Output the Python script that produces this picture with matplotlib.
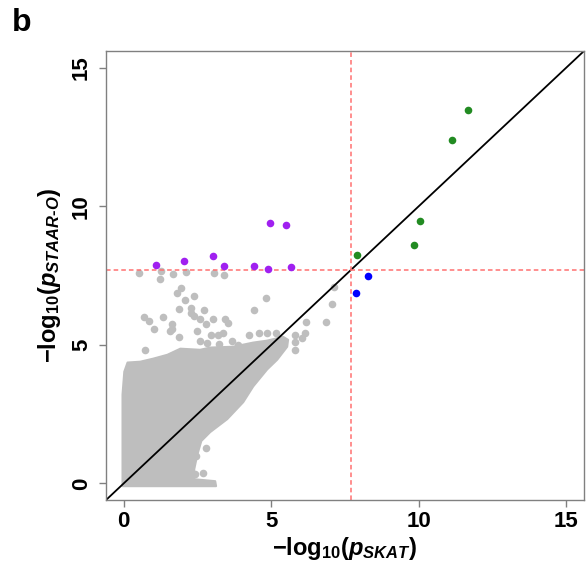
import matplotlib
matplotlib.use('Agg')
import matplotlib.pyplot as plt
import numpy as np

plt.rcParams['font.family'] = ['Liberation Sans', 'DejaVu Sans']
plt.rcParams['font.weight'] = 'bold'
plt.rcParams['mathtext.fontset'] = 'custom'
plt.rcParams['mathtext.rm'] = 'Liberation Sans:bold'
plt.rcParams['mathtext.it'] = 'Liberation Sans:bold:italic'
plt.rcParams['mathtext.bf'] = 'Liberation Sans:bold'
plt.rcParams['mathtext.sf'] = 'Liberation Sans:bold'

# outline of the dense grey cloud (-log10 p SKAT, -log10 p STAAR-O)
cloud_x = [-0.04, -0.04, 0.02, 0.13, 0.56, 1.00, 1.48, 1.92, 2.59, 2.93, 3.71, 4.39,
           4.86, 5.40, 5.57, 5.54, 5.20, 4.86, 4.39, 4.05, 3.51, 2.93, 2.63, 2.49,
           2.39, 2.39, 3.10, 3.13]
cloud_y = [-0.10, 3.21, 4.03, 4.36, 4.39, 4.50, 4.64, 4.86, 4.82, 4.90, 4.93, 5.08,
           5.15, 5.29, 5.18, 4.93, 4.46, 4.11, 3.50, 2.93, 2.32, 1.85, 1.53, 1.02,
           0.51, 0.15, 0.08, -0.10]

# scattered grey points outside the cloud
grey_x = [0.53, 1.25, 1.24, 1.67, 2.10, 3.06, 3.41, 1.95, 1.79, 2.39, 2.09, 4.82,
          7.14, 7.06, 1.88, 2.27, 2.71, 4.43, 6.85, 6.18, 0.68, 0.85, 1.33, 1.04,
          1.64, 1.64, 1.56, 1.88, 2.28, 2.39, 2.59, 2.80, 3.04, 3.44, 3.52, 2.50,
          2.97, 3.18, 3.36, 2.57, 2.82, 3.24, 3.67, 4.26, 4.59, 4.87, 5.15, 0.73,
          5.81, 6.03, 5.81, 6.14, 5.81, 3.89, 4.00, 3.50, 3.10, 2.80, 2.69, 2.42,
          2.46]
grey_y = [7.60, 7.65, 7.39, 7.56, 7.64, 7.60, 7.53, 7.04, 6.88, 6.77, 6.61, 6.70,
          7.09, 6.47, 6.29, 6.31, 6.24, 6.24, 5.84, 5.82, 6.00, 5.87, 6.00, 5.57,
          5.76, 5.57, 5.51, 5.27, 6.14, 6.05, 5.93, 5.76, 5.94, 5.93, 5.78, 5.51,
          5.36, 5.36, 5.42, 5.12, 5.06, 5.04, 5.15, 5.36, 5.42, 5.42, 5.42, 4.80,
          5.36, 5.24, 4.82, 5.42, 5.09, 4.98, 4.88, 4.82, 4.73, 1.27, 0.36, 0.33,
          0.99]

purple_x = [1.11, 2.05, 3.02, 3.39, 4.42, 4.89, 4.95, 5.50, 5.68]
purple_y = [7.88, 8.02, 8.20, 7.83, 7.83, 7.72, 9.41, 9.31, 7.79]

green_x = [7.89, 9.85, 10.04, 11.12, 11.68]
green_y = [8.24, 8.60, 9.46, 12.40, 13.48]

blue_x = [8.28, 7.88]
blue_y = [7.47, 6.88]

threshold = 7.7
ticks = [0, 5, 10, 15]

fig = plt.figure(figsize=(5.87, 5.71), dpi=100)
ax = fig.add_axes([0.1806, 0.1243, 0.8143, 0.7864])

grey = '#BEBEBE'
ax.fill(cloud_x, cloud_y, facecolor=grey, edgecolor=grey, lw=1.5,
        joinstyle='round', zorder=1)
ax.scatter(grey_x, grey_y, s=30, color=grey, lw=0, zorder=1)

ax.axline((0, 0), slope=1, color='black', lw=1.3, zorder=2)
ax.axhline(threshold, color='#FF7070', lw=1.1, ls=(0, (3, 2)), zorder=2)
ax.axvline(threshold, color='#FF7070', lw=1.1, ls=(0, (3, 2)), zorder=2)

ax.scatter(purple_x, purple_y, s=30, color='#A020F0', lw=0, zorder=3)
ax.scatter(green_x, green_y, s=30, color='#228B22', lw=0, zorder=3)
ax.scatter(blue_x, blue_y, s=30, color='#0000FF', lw=0, zorder=3)

ax.set_xlim(-0.6, 15.6)
ax.set_ylim(-0.6, 15.6)
ax.set_xticks(ticks)
ax.set_yticks(ticks)
for s in ax.spines.values():
    s.set_color('#808080')
    s.set_linewidth(1.0)
ax.tick_params(length=5, width=1.0, color='#808080', labelsize=16, pad=3)
ax.tick_params(axis='y', pad=5)
for lab in ax.get_yticklabels():
    lab.set_rotation(90)
    lab.set_va('center')
    lab.set_fontweight('bold')
for lab in ax.get_xticklabels():
    lab.set_fontweight('bold')

ax.set_xlabel(r'$-\mathrm{log}_{10}(p_{SKAT})$', fontsize=17, labelpad=2)
ax.set_ylabel(r'$-\mathrm{log}_{10}(p_{STAAR\text{-}O})$', fontsize=17, labelpad=6)

fig.text(0.02, 0.945, 'b', fontsize=23, fontweight='bold')

fig.savefig('out.png', dpi=100)
